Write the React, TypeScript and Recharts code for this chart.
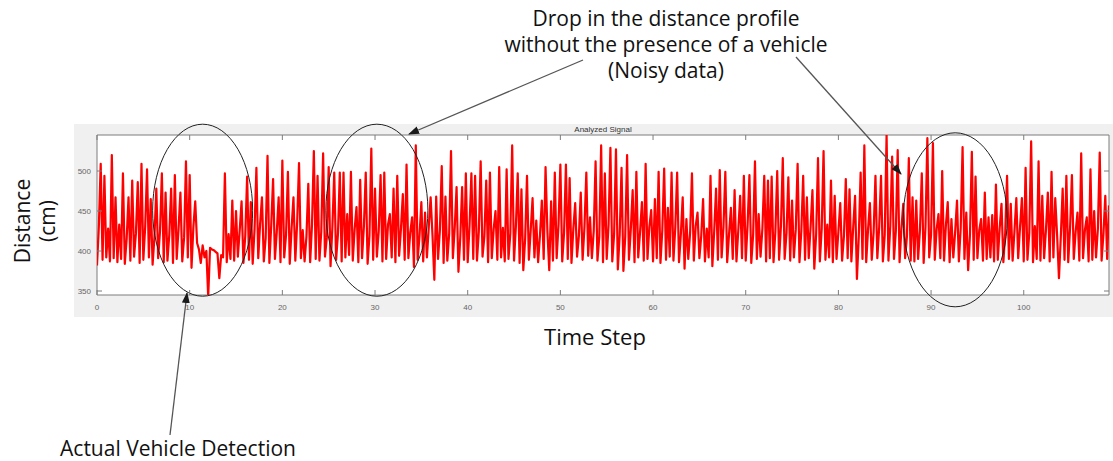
import { LineChart, Line, XAxis, YAxis, ReferenceArea, ReferenceDot } from "recharts";

// sensor samples, one every 0.2 time steps
const SAMPLE_STEP = 0.2;

const distance: number[] = [
  382, 431, 509, 389, 494, 392, 428, 387, 520, 391,
  467, 386, 433, 390, 497, 384, 415, 467, 388, 488,
  393, 422, 486, 385, 509, 389, 430, 502, 392, 465,
  383, 418, 478, 391, 425, 497, 386, 473, 388, 420,
  478, 385, 495, 390, 428, 473, 387, 417, 512, 392,
  495, 379, 430, 462, 410, 402, 385, 407, 392, 400,
  343, 404, 402, 401, 399, 397, 366, 395, 392, 497,
  386, 421, 390, 463, 388, 450, 393, 426, 462, 385,
  419, 493, 389, 461, 384, 427, 504, 391, 434, 467,
  387, 416, 519, 385, 432, 490, 390, 424, 467, 386,
  513, 392, 420, 499, 384, 429, 467, 388, 436, 510,
  391, 426, 387, 418, 484, 386, 433, 525, 390, 494,
  388, 424, 522, 393, 417, 505, 381, 430, 498, 389,
  421, 498, 387, 498, 392, 446, 395, 499, 388, 427,
  455, 386, 489, 391, 431, 498, 384, 419, 528, 389,
  478, 393, 425, 495, 387, 498, 390, 433, 446, 392,
  478, 386, 494, 394, 428, 471, 389, 508, 391, 423,
  442, 380, 532, 389, 419, 461, 387, 448, 392, 430,
  467, 420, 364, 468, 390, 426, 506, 385, 468, 388,
  421, 525, 391, 429, 480, 374, 417, 480, 389, 497,
  386, 432, 497, 390, 494, 388, 424, 512, 393, 418,
  488, 386, 498, 391, 427, 450, 389, 505, 392, 429,
  387, 502, 390, 422, 532, 388, 431, 497, 385, 477,
  376, 415, 494, 389, 426, 466, 392, 438, 386, 420,
  463, 390, 505, 425, 376, 462, 388, 498, 391, 433,
  508, 387, 423, 508, 390, 491, 385, 428, 460, 393,
  419, 473, 389, 430, 498, 394, 442, 391, 425, 512,
  388, 418, 532, 386, 497, 390, 433, 529, 387, 421,
  527, 377, 420, 504, 375, 418, 520, 389, 427, 476,
  386, 499, 392, 424, 461, 388, 509, 390, 430, 451,
  387, 465, 391, 499, 385, 426, 503, 389, 454, 393,
  498, 388, 429, 498, 386, 421, 467, 378, 440, 390,
  423, 497, 388, 431, 448, 391, 419, 465, 387, 428,
  392, 494, 381, 425, 478, 389, 501, 392, 430, 499,
  386, 421, 454, 390, 476, 387, 426, 469, 391, 494,
  388, 432, 495, 385, 420, 512, 390, 446, 393, 428,
  494, 387, 488, 391, 493, 386, 424, 500, 389, 431,
  516, 390, 422, 492, 388, 463, 392, 427, 509, 386,
  425, 494, 389, 467, 391, 430, 476, 378, 421, 516,
  387, 428, 525, 389, 433, 392, 488, 386, 469, 390,
  424, 460, 388, 419, 490, 391, 477, 387, 430, 469,
  365, 418, 498, 390, 532, 386, 427, 460, 389, 423,
  494, 391, 429, 494, 387, 420, 545, 388, 431, 518,
  390, 425, 526, 386, 428, 459, 391, 419, 516, 388,
  467, 387, 463, 390, 426, 497, 385, 430, 541, 392,
  420, 535, 389, 427, 446, 391, 500, 388, 432, 461,
  386, 440, 392, 424, 463, 387, 429, 530, 390, 448,
  376, 421, 524, 389, 493, 391, 426, 440, 388, 473,
  390, 442, 392, 445, 387, 483, 389, 428, 459, 386,
  422, 494, 390, 459, 388, 425, 466, 391, 430, 466,
  387, 504, 389, 423, 537, 386, 431, 390, 512, 388,
  469, 391, 427, 473, 387, 499, 392, 466, 420, 366,
  418, 478, 389, 494, 386, 429, 495, 390, 424, 448,
  388, 522, 391, 426, 442, 387, 502, 389, 450, 392,
  428, 523, 388, 421, 469, 390, 457,
];

const timeTicks = [0, 10, 20, 30, 40, 50, 60, 70, 80, 90, 100];
const distanceTicks = [350, 400, 450, 500];
const timeDomain = [0, 109.2];
const distanceDomain = [345, 545];

// regions circled on the plot (time step, distance)
const highlightCenters = [
  { time: 11.4, distance: 451 },
  { time: 30.2, distance: 451 },
  { time: 92.6, distance: 439 },
];

const chartData = distance.map((d, i) => ({
  time: Math.round(i * SAMPLE_STEP * 10) / 10,
  distance: d,
}));

const W = 1113;
const H = 461;
const PLOT_LEFT = 97;
const PLOT_RIGHT = 1109;
const PLOT_TOP = 135;
const PLOT_BOTTOM = 295;
const TICK_LEN = 5;
const AXIS_COLOR = "#7d7d7d";
const TICK_FONT = "'Liberation Sans', Arial, sans-serif";
const TEXT_FONT = "'Open Sans', 'Noto Sans', sans-serif";
const ELLIPSE_RADII = [
  [50, 86],
  [51, 86],
  [52, 87],
];

function TimeTick({ x, payload }: any) {
  return (
    <g>
      <line x1={x} x2={x} y1={PLOT_BOTTOM} y2={PLOT_BOTTOM - TICK_LEN} stroke={AXIS_COLOR} />
      <line x1={x} x2={x} y1={PLOT_TOP} y2={PLOT_TOP + TICK_LEN} stroke={AXIS_COLOR} />
      <text
        x={x}
        y={PLOT_BOTTOM + 12}
        textAnchor="middle"
        dominantBaseline="central"
        fontSize={8}
        fontFamily={TICK_FONT}
        fill="#666"
      >
        {payload.value}
      </text>
    </g>
  );
}

function DistanceTick({ y, payload }: any) {
  return (
    <g>
      <line x1={PLOT_LEFT} x2={PLOT_LEFT + TICK_LEN} y1={y} y2={y} stroke={AXIS_COLOR} />
      <line x1={PLOT_RIGHT} x2={PLOT_RIGHT - TICK_LEN} y1={y} y2={y} stroke={AXIS_COLOR} />
      <text
        x={PLOT_LEFT - 6}
        y={y}
        textAnchor="end"
        dominantBaseline="central"
        fontSize={8}
        fontFamily={TICK_FONT}
        fill="#666"
      >
        {payload.value}
      </text>
    </g>
  );
}

export default function App() {
  return (
    <div style={{ position: "absolute", left: 0, top: 0, width: W, height: H, background: "#fff" }}>
      {/* figure panel and white axes background */}
      <div style={{ position: "absolute", left: 74, top: 124, width: W - 74, height: 193, background: "#f0f0f0" }} />
      <div
        style={{
          position: "absolute",
          left: PLOT_LEFT,
          top: PLOT_TOP,
          width: PLOT_RIGHT - PLOT_LEFT,
          height: PLOT_BOTTOM - PLOT_TOP,
          background: "#fff",
        }}
      />
      <div style={{ position: "absolute", left: 0, top: 0 }}>
        <LineChart
          width={W}
          height={H}
          data={chartData}
          margin={{ top: PLOT_TOP, right: W - PLOT_RIGHT, bottom: 136, left: 37 }}
        >
          <XAxis
            dataKey="time"
            type="number"
            domain={timeDomain}
            ticks={timeTicks}
            interval={0}
            height={30}
            axisLine={false}
            tickLine={false}
            tickSize={0}
            tick={<TimeTick />}
            allowDataOverflow
          />
          <YAxis
            type="number"
            domain={distanceDomain}
            ticks={distanceTicks}
            interval={0}
            width={60}
            axisLine={false}
            tickLine={false}
            tickSize={0}
            tick={<DistanceTick />}
            allowDataOverflow
          />
          <Line
            type="linear"
            dataKey="distance"
            stroke="#ff0000"
            strokeWidth={2.2}
            strokeLinejoin="round"
            dot={false}
            activeDot={false}
            isAnimationActive={false}
          />
          <ReferenceArea
            x1={timeDomain[0]}
            x2={timeDomain[1]}
            y1={distanceDomain[0]}
            y2={distanceDomain[1]}
            fill="none"
            stroke={AXIS_COLOR}
            strokeWidth={1}
          />
          {highlightCenters.map((c, i) => (
            <ReferenceDot
              key={i}
              x={c.time}
              y={c.distance}
              ifOverflow="visible"
              shape={(p: any) => (
                <ellipse
                  cx={p.cx}
                  cy={p.cy}
                  rx={ELLIPSE_RADII[i][0]}
                  ry={ELLIPSE_RADII[i][1]}
                  fill="none"
                  stroke="#222"
                  strokeWidth={1}
                />
              )}
            />
          ))}
        </LineChart>
      </div>
      <svg
        width={W}
        height={H}
        style={{ position: "absolute", left: 0, top: 0, pointerEvents: "none" }}
      >
        <defs>
          <marker
            id="arrowHead"
            markerWidth={11}
            markerHeight={8}
            refX={10}
            refY={4}
            orient="auto"
            markerUnits="userSpaceOnUse"
          >
            <path d="M0,0 L11,4 L0,8 z" fill="#1a1a1a" />
          </marker>
        </defs>
        <text
          x={(PLOT_LEFT + PLOT_RIGHT) / 2}
          y={129}
          textAnchor="middle"
          dominantBaseline="central"
          fontSize={8}
          fontFamily={TICK_FONT}
          fill="#333"
        >
          Analyzed Signal
        </text>

        <g fontFamily={TEXT_FONT} fontSize={21} fill="#111" textAnchor="middle">
          <text x={666} y={18} dominantBaseline="central">Drop in the distance profile</text>
          <text x={666} y={44} dominantBaseline="central">without the presence of a vehicle</text>
          <text x={666} y={70} dominantBaseline="central">(Noisy data)</text>
          <text x={178} y={448} dominantBaseline="central">Actual Vehicle Detection</text>
          <text x={595} y={336} fontSize={22} dominantBaseline="central">Time Step</text>
          <text x={22} y={221} dominantBaseline="central" transform="rotate(-90 22 221)">Distance</text>
          <text x={47} y={221} dominantBaseline="central" transform="rotate(-90 47 221)">(cm)</text>
        </g>

        <g stroke="#555" strokeWidth={1.3} fill="none">
          <line x1={583} y1={60} x2={409} y2={134} markerEnd="url(#arrowHead)" />
          <line x1={796} y1={57} x2={901} y2={174} markerEnd="url(#arrowHead)" />
          <line x1={170} y1={435} x2={187} y2={293} markerEnd="url(#arrowHead)" />
        </g>
      </svg>
    </div>
  );
}
